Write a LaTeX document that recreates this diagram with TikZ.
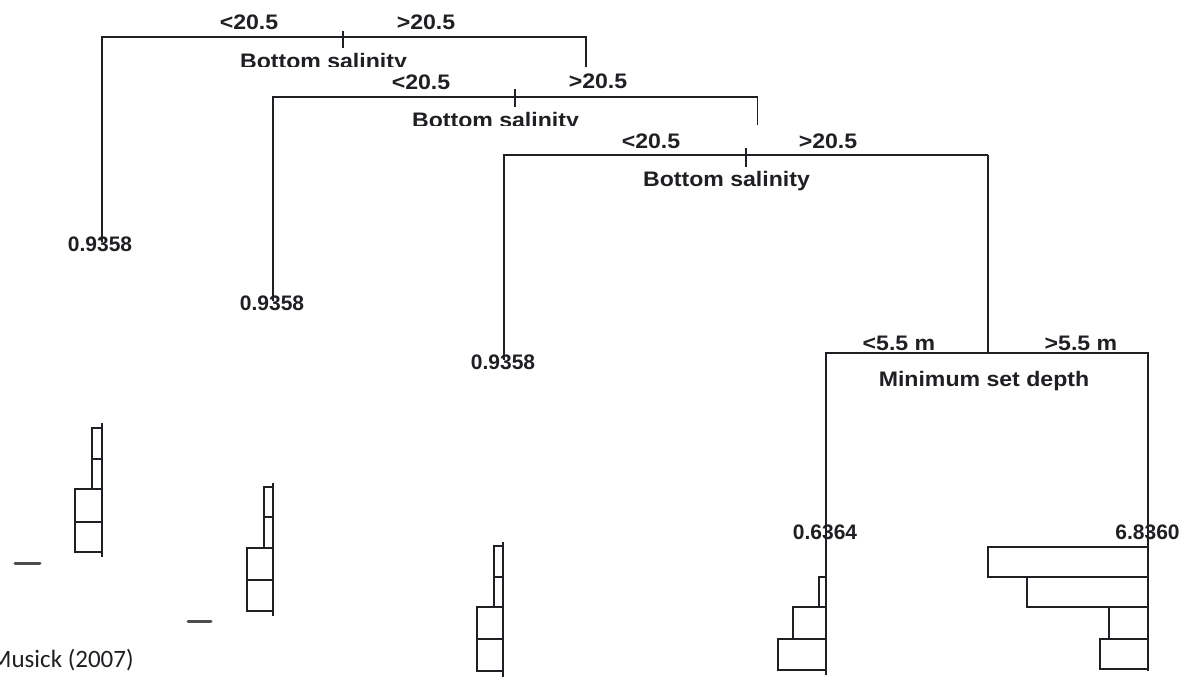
\documentclass[tikz,border=0pt]{standalone}
\usepackage{fontspec}
\usepackage{graphicx}
\setmainfont{Liberation Sans}
\newfontfamily\citefont{Carlito}
\definecolor{ink}{RGB}{32,32,36}
\newcommand{\stretchx}[1]{\scalebox{1.1}[1]{#1}}
\tikzset{
  lbl/.style={font=\bfseries\fontsize{21}{24}\selectfont, text=ink, inner sep=0pt, anchor=base},
  br/.style={draw=ink, line width=1.8pt, line join=miter},
  bar/.style={draw=ink, line width=1.8pt, line join=miter},
  smudge/.style={draw=ink!80, line width=3pt, line cap=round}
}
\begin{document}
\begin{tikzpicture}[x=1pt,y=-1pt]
\useasboundingbox (0,0) rectangle (1184,677);
\fill[white] (0,0) rectangle (1184,677);

% ---------- split 1 ----------
\coordinate (a1) at (101.7,37.3);
\coordinate (b1) at (586,37.3);
\coordinate (b1e) at (586,67);
\coordinate (k1t) at (343,31);
\coordinate (k1b) at (343,48);
\coordinate (a1e) at (101.7,242);
\draw[br] (a1e) -- (a1) -- (b1) -- (b1e);
\draw[br] (k1t) -- (k1b);
\node[lbl] (lt1) at (249,30) {\stretchx{<20.5}};
\node[lbl] (gt1) at (426,30) {\stretchx{>20.5}};
\begin{scope}
  \clip (200,40) rectangle (460,66.5);
  \node[lbl] (var1) at (323.5,68.5) {\stretchx{Bottom salinity}};
\end{scope}
\node[lbl] (leaf1) at (100,251) {0.9358};

% ---------- split 2 ----------
\coordinate (a2) at (273.3,96.7);
\coordinate (b2) at (757.5,96.7);
\coordinate (b2e) at (757.5,125);
\coordinate (k2t) at (515,89);
\coordinate (k2b) at (515,107);
\coordinate (a2e) at (273.3,301);
\draw[br] (a2e) -- (a2) -- (b2) -- (b2e);
\draw[br] (k2t) -- (k2b);
\node[lbl] (lt2) at (421,89.5) {\stretchx{<20.5}};
\node[lbl] (gt2) at (598,88.5) {\stretchx{>20.5}};
\begin{scope}
  \clip (380,100) rectangle (640,125);
  \node[lbl] (var2) at (495.5,127) {\stretchx{Bottom salinity}};
\end{scope}
\node[lbl] (leaf2) at (272,310) {0.9358};

% ---------- split 3 ----------
\coordinate (a3) at (504,155);
\coordinate (b3) at (988,155);
\coordinate (k3t) at (746,148);
\coordinate (k3b) at (746,167);
\coordinate (a3e) at (504,360);
\draw[br] (a3e) -- (a3) -- (b3);
\draw[br] (k3t) -- (k3b);
\node[lbl] (lt3) at (651,148) {\stretchx{<20.5}};
\node[lbl] (gt3) at (828,148) {\stretchx{>20.5}};
\node[lbl] (var3) at (726.5,186) {\stretchx{Bottom salinity}};
\node[lbl] (leaf3) at (503,369) {0.9358};

% ---------- split 4 ----------
\coordinate (b3d) at (988,353);
\coordinate (a4) at (825.7,353);
\coordinate (b4) at (1148,353);
\coordinate (a4e) at (825.7,675);
\coordinate (b4e) at (1148,671);
\draw[br] (b3) -- (b3d);
\draw[br] (a4e) -- (a4) -- (b4) -- (b4e);
\node[lbl] (lt4) at (899,350) {\stretchx{<5.5 m}};
\node[lbl] (gt4) at (1081,350) {\stretchx{>5.5 m}};
\node[lbl] (var4) at (984,386) {\stretchx{Minimum set depth}};
\node[lbl] (leaf4) at (825,539) {0.6364};
\node[lbl] (leaf5) at (1147.5,539) {6.8360};

% ---------- histograms ----------
% panel 1
\draw[bar] (101.7,423) -- (101.7,557);
\draw[bar] (92,428.3) rectangle (101.7,459);
\draw[bar] (92,459) rectangle (101.7,489);
\draw[bar] (75,489) rectangle (101.7,521.7);
\draw[bar] (75,521.7) rectangle (101.7,552.3);
\draw[smudge] (15,563) -- (40,563);
% panel 2
\draw[bar] (273.3,483) -- (273.3,616);
\draw[bar] (264,487) rectangle (273.3,517);
\draw[bar] (264,517) rectangle (273.3,548);
\draw[bar] (247,548) rectangle (273.3,580);
\draw[bar] (247,580) rectangle (273.3,611);
\draw[smudge] (188,621) -- (211,621);
% panel 3
\draw[bar] (503.3,542) -- (503.3,677);
\draw[bar] (494,546) rectangle (503.3,577);
\draw[bar] (494,577) rectangle (503.3,607);
\draw[bar] (477,607) rectangle (503.3,639);
\draw[bar] (477,639) rectangle (503.3,671);
% panel 4 left
\draw[bar] (819.3,576.7) rectangle (825.7,606.7);
\draw[bar] (793.3,606.7) rectangle (825.7,639.3);
\draw[bar] (777.7,639.3) rectangle (825.7,670);
% panel 4 right
\draw[bar] (988.3,546.7) rectangle (1148,576.7);
\draw[bar] (1026.7,576.7) rectangle (1148,606.7);
\draw[bar] (1109.3,606.7) rectangle (1148,639.3);
\draw[bar] (1100,639.3) rectangle (1148,669.3);

% ---------- source ----------
\node[font=\citefont\fontsize{25}{28}\selectfont, text=ink, inner sep=0pt, anchor=base west] (cite) at (-10,667) {Musick (2007)};
\end{tikzpicture}
\end{document}
